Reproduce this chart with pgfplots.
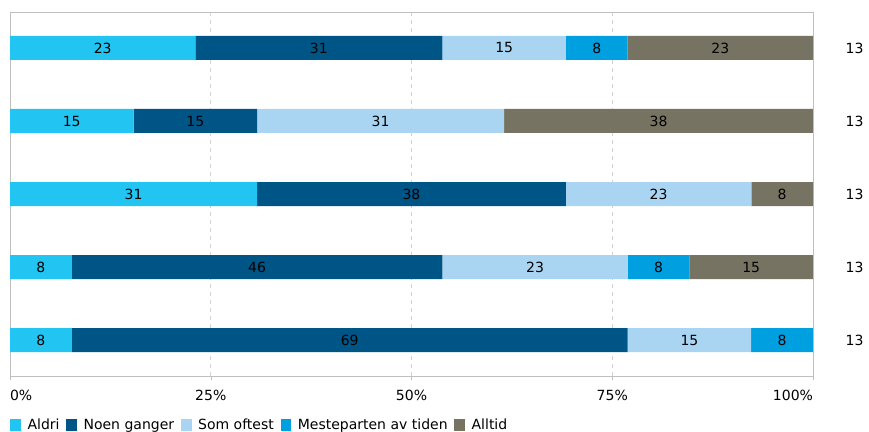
\documentclass[border=0pt]{standalone}
\usepackage{pgfplots}
\pgfplotsset{compat=1.18}
\usepackage{fontspec}
\setmainfont{DejaVu Sans}
\definecolor{cAldri}{HTML}{22C4F2}
\definecolor{cNoen}{HTML}{005587}
\definecolor{cSom}{HTML}{A9D5F3}
\definecolor{cMest}{HTML}{009FE0}
\definecolor{cAll}{HTML}{767362}
\definecolor{axgray}{HTML}{BFBFBF}
\begin{document}
\begin{tikzpicture}[font=\fontsize{10.5}{12}\selectfont]
\path[use as bounding box] (0,0) rectangle (651.75pt,324pt);
\begin{axis}[
  at={(7.5pt,42pt)}, anchor=south west,
  scale only axis, width=602.25pt, height=273pt,
  xbar stacked, bar width=18pt,
  xmin=0, xmax=100, ymin=0.507, ymax=5.493, y dir=reverse,
  axis line style={axgray},
  xtick={0,25,50,75,100},
  xticklabels={\rlap{0\%},25\%,50\%,75\%,\llap{100\%}},
  xtick pos=bottom, tick align=outside, major tick length=3pt,
  xtick style={axgray},
  xticklabel style={anchor=north, yshift=-4pt},
  xmajorgrids, grid style={dashed, gray!35},
  ytick={1,2,3,4,5}, yticklabels={13,13,13,13,13},
  yticklabel pos=right, ytick style={draw=none},
  yticklabel style={anchor=west, xshift=18pt},
  point meta=rawx,
  visualization depends on={rawx \as \rawx},
  nodes near coords={\ifdim\rawx pt>0.5pt \pgfmathprintnumber[fixed,precision=0,assume math mode=true]{\rawx}\fi},
  every node near coord/.append style={anchor=center, text=black},
  legend style={at={(0,-0.11)}, anchor=north west, legend columns=-1, draw=none,
     column sep=3pt, inner sep=0pt, font=\fontsize{10.5}{12}\selectfont},
  legend cell align=left,
  legend image code/.code={\fill[#1] (0pt,-4.5pt) rectangle (8pt,4.5pt);},
]
\addplot[fill=cAldri, draw=none] coordinates {(23.08,1) (15.38,2) (30.77,3) (7.69,4) (7.69,5)};
\addplot[fill=cNoen, draw=none] coordinates {(30.77,1) (15.38,2) (38.46,3) (46.15,4) (69.23,5)};
\addplot[fill=cSom, draw=none] coordinates {(15.38,1) (30.77,2) (23.08,3) (23.08,4) (15.38,5)};
\addplot[fill=cMest, draw=none] coordinates {(7.69,1) (0,2) (0,3) (7.69,4) (7.69,5)};
\addplot[fill=cAll, draw=none] coordinates {(23.08,1) (38.46,2) (7.69,3) (15.38,4) (0,5)};
\legend{Aldri, Noen ganger, Som oftest, Mesteparten av tiden, Alltid}
\end{axis}
\end{tikzpicture}
\end{document}
